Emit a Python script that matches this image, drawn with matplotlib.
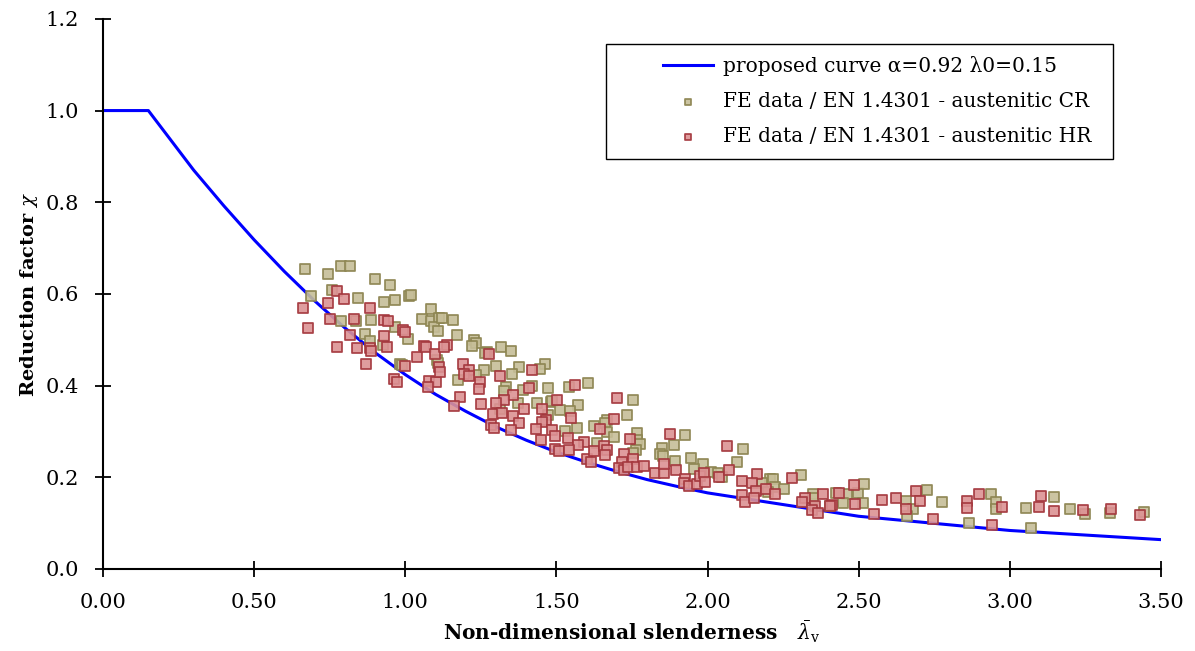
import matplotlib.pyplot as plt
from matplotlib.patches import Rectangle

plt.rcParams['font.family'] = 'DejaVu Serif'
plt.rcParams['mathtext.fontset'] = 'dejavuserif'

# Proposed buckling curve (alpha=0.92, lambda0=0.15)
curve_x = [0.0, 0.15, 0.3, 0.4, 0.5, 0.6, 0.7, 0.8, 0.9, 1.0, 1.1, 1.2, 1.3, 1.4,
           1.5, 1.6, 1.7, 1.8, 1.9, 2.0, 2.5, 3.0, 3.5]
curve_y = [1.0, 1.0, 0.870, 0.792, 0.718, 0.649, 0.585, 0.526, 0.472, 0.424, 0.381,
           0.344, 0.310, 0.281, 0.255, 0.233, 0.213, 0.195, 0.180, 0.166, 0.115,
           0.084, 0.064]

# FE results, cold-rolled austenitic
cr_x = [0.667, 0.745, 0.787, 0.816, 0.900, 0.949, 0.759, 0.689, 0.844, 0.931, 0.967,
        1.011, 1.018, 1.086, 1.054, 1.084, 1.111, 1.096, 1.109, 0.788, 0.837, 0.887,
        0.967, 1.010, 0.867, 0.884, 0.925, 0.982, 0.988, 1.104, 1.108,
        1.121, 1.159, 1.171, 1.227, 1.235, 1.222, 1.269, 1.264, 1.318, 1.351,
        1.299, 1.376, 1.462, 1.447, 1.261, 1.354, 1.175, 1.235, 1.332, 1.326,
        1.420, 1.473, 1.390, 1.543, 1.603,
        1.373, 1.436, 1.481, 1.487, 1.570, 1.512, 1.545, 1.313, 1.567, 1.528, 1.472,
        1.754, 1.734, 1.667, 1.625,
        1.662, 1.669, 1.691, 1.765, 1.766, 1.776, 1.635, 1.763, 1.752, 1.925, 1.888,
        1.848, 1.843, 1.852, 1.893, 1.945, 1.985, 1.956, 2.013, 2.033, 2.049, 2.099,
        2.116,
        2.309, 2.206, 2.217, 2.222, 2.253, 2.180, 2.200, 2.348, 2.348, 2.425, 2.461,
        2.498, 2.518, 2.448, 2.404, 2.515, 2.658, 2.680, 2.660, 2.727, 2.776,
        2.937, 2.953, 2.953, 2.865, 3.054, 3.070, 3.147, 3.200, 3.249, 3.330, 3.445]
cr_y = [0.655, 0.644, 0.662, 0.660, 0.633, 0.620, 0.609, 0.595, 0.591, 0.583, 0.587,
        0.595, 0.597, 0.567, 0.546, 0.540, 0.547, 0.527, 0.519, 0.542, 0.541, 0.543,
        0.528, 0.502, 0.513, 0.498, 0.489, 0.448, 0.445, 0.456, 0.449,
        0.547, 0.544, 0.510, 0.499, 0.492, 0.487, 0.474, 0.471, 0.484, 0.476,
        0.442, 0.440, 0.447, 0.436, 0.433, 0.425, 0.412, 0.423, 0.396, 0.388,
        0.400, 0.394, 0.391, 0.397, 0.406,
        0.362, 0.362, 0.364, 0.366, 0.357, 0.346, 0.344, 0.348, 0.308, 0.300, 0.336,
        0.369, 0.335, 0.324, 0.311,
        0.318, 0.298, 0.287, 0.296, 0.281, 0.273, 0.274, 0.260, 0.252, 0.292, 0.270,
        0.263, 0.251, 0.247, 0.236, 0.241, 0.228, 0.218, 0.212, 0.210, 0.200, 0.233,
        0.262,
        0.205, 0.196, 0.196, 0.178, 0.175, 0.187, 0.167, 0.163, 0.155, 0.166, 0.164,
        0.165, 0.185, 0.145, 0.137, 0.145, 0.149, 0.130, 0.116, 0.173, 0.146,
        0.164, 0.146, 0.131, 0.101, 0.132, 0.089, 0.158, 0.130, 0.120, 0.123, 0.124]

# FE results, hot-rolled austenitic
hr_x = [0.774, 0.798, 0.745, 0.663, 0.882, 0.752, 0.832, 0.931, 0.942, 0.679, 0.816,
        0.991, 0.998, 0.931, 0.775, 0.839, 0.882, 0.887, 0.940, 1.039, 1.063, 1.068,
        1.099, 0.871, 0.999, 0.964, 0.973, 1.079, 1.102, 1.076, 1.111,
        1.137, 1.129, 1.277, 1.191, 1.212, 1.195, 1.211, 1.116, 1.315, 1.419, 1.246,
        1.245, 1.409, 1.561,
        1.181, 1.356, 1.325, 1.503, 1.160, 1.249, 1.299, 1.291, 1.319, 1.356, 1.392,
        1.451, 1.549, 1.466, 1.453, 1.376, 1.283, 1.294, 1.351, 1.433, 1.484, 1.496,
        1.537, 1.448, 1.590, 1.572, 1.494, 1.509, 1.543, 1.600,
        1.701, 1.689, 1.645,
        1.877, 1.742, 1.625, 1.657, 1.668, 1.662, 1.722, 1.616, 1.755, 1.717, 1.707,
        1.724, 1.737, 1.768, 1.790, 1.827, 1.855, 1.855, 2.063, 1.895, 1.926, 1.921,
        1.938, 1.965, 1.975, 1.988, 1.993, 2.038, 2.071, 2.115, 2.115, 2.124,
        2.164, 2.146, 2.160, 2.193, 2.153, 2.223, 2.278, 2.324, 2.312, 2.383, 2.434,
        2.485, 2.356, 2.413, 2.406, 2.344, 2.367, 2.489, 2.550, 2.576, 2.622, 2.655,
        2.690, 2.703, 2.747,
        2.860, 2.860, 2.897, 2.942, 2.973, 3.103, 3.097, 3.145, 3.242, 3.335, 3.431]
hr_y = [0.607, 0.590, 0.581, 0.569, 0.570, 0.545, 0.546, 0.544, 0.540, 0.525, 0.511,
        0.522, 0.516, 0.508, 0.484, 0.482, 0.482, 0.476, 0.484, 0.463, 0.487, 0.484,
        0.468, 0.447, 0.442, 0.414, 0.407, 0.410, 0.407, 0.396, 0.440,
        0.489, 0.485, 0.468, 0.448, 0.435, 0.425, 0.422, 0.429, 0.421, 0.434, 0.407,
        0.393, 0.394, 0.401,
        0.375, 0.380, 0.369, 0.369, 0.355, 0.360, 0.363, 0.339, 0.341, 0.334, 0.348,
        0.348, 0.329, 0.326, 0.321, 0.318, 0.315, 0.308, 0.304, 0.306, 0.303, 0.289,
        0.285, 0.281, 0.278, 0.270, 0.261, 0.257, 0.260, 0.239,
        0.372, 0.327, 0.306,
        0.294, 0.284, 0.258, 0.268, 0.259, 0.249, 0.251, 0.234, 0.240, 0.233, 0.220,
        0.215, 0.223, 0.222, 0.225, 0.210, 0.209, 0.228, 0.268, 0.216, 0.196, 0.188,
        0.182, 0.185, 0.203, 0.209, 0.189, 0.200, 0.216, 0.191, 0.161, 0.147,
        0.207, 0.187, 0.171, 0.174, 0.155, 0.163, 0.198, 0.155, 0.146, 0.163, 0.165,
        0.183, 0.138, 0.140, 0.137, 0.129, 0.122, 0.142, 0.121, 0.150, 0.154, 0.130,
        0.171, 0.148, 0.108,
        0.148, 0.133, 0.164, 0.095, 0.136, 0.159, 0.135, 0.126, 0.128, 0.131, 0.118]

fig = plt.figure(figsize=(11.95, 6.51), dpi=100)
ax = fig.add_axes([0.0862, 0.126, 0.8853, 0.845])

ax.plot(curve_x, curve_y, color='#0000ff', lw=2.2, zorder=2,
        label='proposed curve α=0.92 λ0=0.15')
ax.scatter(cr_x, cr_y, marker='s', s=52, c='#c6be98', edgecolors='#8c8450',
           linewidths=1.3, alpha=0.9, zorder=3,
           label='FE data / EN 1.4301 - austenitic CR')
ax.scatter(hr_x, hr_y, marker='s', s=52, c='#dc9294', edgecolors='#a3363c',
           linewidths=1.3, alpha=0.9, zorder=4,
           label='FE data / EN 1.4301 - austenitic HR')

ax.set_xlim(0, 3.5)
ax.set_ylim(0, 1.2)
ax.set_xticks([0, 0.5, 1.0, 1.5, 2.0, 2.5, 3.0, 3.5])
ax.set_xticklabels(['0.00', '0.50', '1.00', '1.50', '2.00', '2.50', '3.00', '3.50'])
ax.set_yticks([0, 0.2, 0.4, 0.6, 0.8, 1.0, 1.2])
ax.set_yticklabels(['0.0', '0.2', '0.4', '0.6', '0.8', '1.0', '1.2'])
ax.tick_params(direction='inout', length=11, width=1.3, labelsize=15)
ax.tick_params(axis='x', pad=12)
ax.tick_params(axis='y', pad=12)

for side in ['top', 'right']:
    ax.spines[side].set_visible(False)
for side in ['left', 'bottom']:
    ax.spines[side].set_linewidth(1.5)

ax.set_xlabel(r'Non-dimensional slenderness   $\bar{\lambda}_\mathrm{v}$',
              fontsize=14.5, fontweight='bold', labelpad=4)
ax.set_ylabel(r'Reduction factor $\chi$', fontsize=14, fontweight='bold', labelpad=4)

# legend entries without frame, boxed by a separate rectangle
leg = ax.legend(loc='upper left', bbox_to_anchor=(0.5293, 0.933), fontsize=14.5,
                frameon=False, markerscale=0.6, borderaxespad=0, borderpad=0,
                handlelength=2.5, handletextpad=0.5, labelspacing=0.8)
ax.add_patch(Rectangle((0.4754, 0.7455), 0.4792, 0.209, transform=ax.transAxes,
                       facecolor='white', edgecolor='black', lw=1.0, zorder=5))
leg.set_zorder(6)

fig.savefig('out.png', dpi=100)
